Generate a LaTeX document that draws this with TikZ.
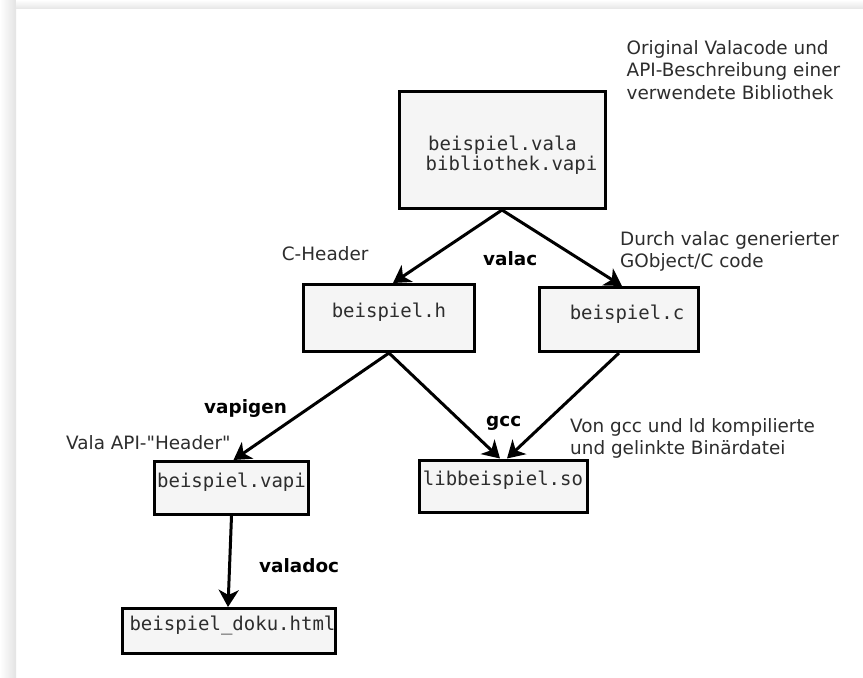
\documentclass[tikz,border=0pt]{standalone}
\usepackage{fontspec}
\setmainfont{DejaVu Sans}[Ligatures=TeXOff]
\setmonofont{DejaVu Sans Mono}
\usetikzlibrary{arrows.meta}
\definecolor{boxfill}{RGB}{245,245,245}
\definecolor{txt}{RGB}{45,45,45}
\begin{document}
\begin{tikzpicture}[x=1pt,y=-1pt,
  file/.style={draw=black, line width=3pt, fill=boxfill, font=\ttfamily\fontsize{19}{20}\selectfont, text=txt, inner sep=0pt, text height=14.4pt, text depth=14.5pt},
  monotext/.style={font=\ttfamily\fontsize{19}{20}\selectfont, text=txt, inner sep=0pt},
  flow/.style={line width=3pt, -{Stealth[length=17pt,width=20pt,inset=5pt]}},
  note/.style={font=\fontsize{18.4}{22.5}\selectfont, text=txt, inner sep=0pt},
  tool/.style={font=\bfseries\fontsize{18.4}{22.5}\selectfont, text=black, inner sep=0pt}]
\useasboundingbox (0,0) rectangle (863,678);
\fill[white] (0,0) rectangle (863,678);
\shade[left color=white, right color=gray!22] (0,0) rectangle (16,678);
\shade[top color=white, bottom color=gray!18] (16,0) rectangle (863,8);

% boxes
\node[file, minimum width=206, minimum height=117] (src) at (502,150) {};
\node[monotext, anchor=west, align=left] (srctext) at (425.5,155) {\hspace*{2.5pt}beispiel.vala\\bibliothek.vapi};
\node[file, minimum width=171, minimum height=67] (h) at (389,318) {beispiel.h};
\node[file, minimum width=159, minimum height=64] (c) at (619,319.5) {\hspace*{16pt}beispiel.c};
\node[file, minimum width=154, minimum height=53] (vapi) at (231.5,488) {beispiel.vapi};
\node[file, minimum width=168, minimum height=52] (so) at (503,486) {libbeispiel.so};
\node[file, minimum width=211, minimum height=45] (doku) at (229,631) {\hspace*{7pt}beispiel\_doku.html};

% arrows
\draw[flow] (src.south) -- ([xshift=4pt]h.north);
\draw[flow] (src.south) -- ([xshift=3pt]c.north);
\draw[flow] (h.south) -- ([xshift=2pt]vapi.north);
\draw[flow] (h.south) -- ([xshift=-3pt]so.north);
\draw[flow] (c.south) -- ([xshift=4pt]so.north);
\draw[flow] (vapi.south) -- ([xshift=-1pt]doku.north);

% notes
\node[note, align=left, anchor=north west] (n1) at (626.5,40) {Original Valacode und\\API-Beschreibung einer\\verwendete Bibliothek};
\node[note, align=left, anchor=north west] (n2) at (620,231) {Durch valac generierter\\GObject/C code};
\node[note, align=left, anchor=north west] (n3) at (570,418) {Von gcc und ld kompilierte\\und gelinkte Binärdatei};
\node[note, anchor=base west] (n4) at (281.7,260) {C-Header};
\node[note, anchor=base west] (n5) at (66,449) {Vala API-"Header"};

% tool labels
\node[tool, anchor=base west] (t1) at (483,265.7) {valac};
\node[tool, anchor=base west] (t2) at (204,413.5) {vapigen};
\node[tool, anchor=base west] (t3) at (486,426) {gcc};
\node[tool, anchor=base west] (t4) at (259,572) {valadoc};
\end{tikzpicture}
\end{document}
